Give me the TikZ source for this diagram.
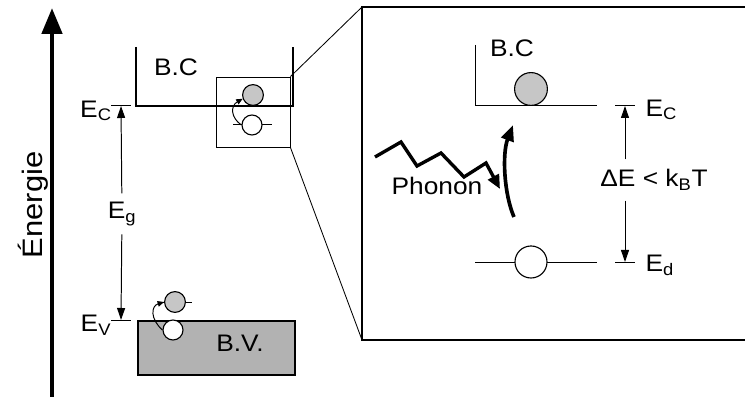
\documentclass[tikz,border=0pt]{standalone}
\usepackage{fontspec}
\setmainfont{Liberation Sans}[FakeStretch=1.1]
\usetikzlibrary{arrows.meta}
\tikzset{
  band/.style={line width=1.4pt},
  level/.style={line width=0.7pt},
  gaparrow/.style={line width=0.7pt, -{Triangle[length=3mm, width=2mm]}},
  elec/.style={circle, draw, line width=0.8pt, fill=gray!45, minimum size=#1, inner sep=0pt},
  hole/.style={circle, draw, line width=0.8pt, fill=white, minimum size=#1, inner sep=0pt},
  lbl/.style={font=\fontsize{17}{19}\selectfont, inner sep=1pt},
}

\begin{document}
\begin{tikzpicture}[x=0.025cm, y=0.025cm]
    \useasboundingbox (0,0) rectangle (745,399);
    % axe des energies
    \draw[line width=3.4pt, -{Triangle[length=6.5mm, width=5mm]}] (52,2) -- (52,391);
    \node[lbl, font=\fontsize{20}{22}\selectfont, rotate=90] (energie) at (33,194) {Énergie};
    % bandes
    \draw[band] (136,352) -- (136,293) -- (293,293) -- (293,352);
    \node[lbl] (bc) at (176,332) {B.C};
    \draw[band, fill=gray!60] (138,24) rectangle (295,78);
    \node[lbl] (bv) at (240,56) {B.V.};
    % niveaux et gap
    \coordinate (ctick) at (121,293);
    \coordinate (vtick) at (121,79);
    \draw[level] (111,293) -- (131,293);
    \draw[level] (111,79) -- (131,79);
    \node[lbl] (Ec) at (96,288) {E\textsubscript{C}};
    \node[lbl] (Ev) at (96,74) {E\textsubscript{V}};
    \node[lbl, inner sep=6pt] (Eg) at (122,185) {E\textsubscript{g}};
    \draw[gaparrow] (Eg) -- (ctick);
    \draw[gaparrow] (Eg) -- (vtick);
    % excitation dans la B.V.
    \draw[level] (158,97) -- (192,97);
    \node[elec=5.2mm] (ev) at (175,97) {};
    \node[hole=5mm] (hv) at (173,69) {};
    \draw[level, -{Triangle[length=1.6mm, width=1.4mm]}] (hv.west) .. controls (150,80) and (151,93) .. (ev.west);
    % zone agrandie
    \node[draw, line width=0.6pt, minimum width=1.85cm, minimum height=1.75cm, inner sep=0pt] (zoom) at (253,287) {};
    \node[elec=5.2mm] (es) at (253,304) {};
    \draw[level] (233,274) -- (272,274);
    \node[hole=5mm] (hs) at (252,274) {};
    \draw[level, -{Triangle[length=1.6mm, width=1.4mm]}] (hs.west) .. controls (231,281) and (230,293) .. (es.200);
    \coordinate (bigNW) at (362,392);
    \coordinate (bigSW) at (362,59);
    \draw[line width=0.6pt] (zoom.north east) -- (bigNW);
    \draw[line width=0.6pt] (zoom.south east) -- (bigSW);
    \draw[band] (745,392) -- (bigNW) -- (bigSW) -- (745,59);
    % detail : donneur -> B.C
    \draw[level] (475,354) -- (475,293) -- (597,293);
    \node[lbl] (bc2) at (512,351) {B.C};
    \node[elec=8.2mm] (ec) at (531,310) {};
    \draw[level] (475,137) -- (597,137);
    \node[hole=8mm] (hd) at (531,137) {};
    \coordinate (ctick2) at (625,293);
    \coordinate (dtick2) at (625,137);
    \draw[level] (615,293) -- (635,293);
    \draw[level] (615,137) -- (635,137);
    \node[lbl, anchor=west] (Ec2) at (644,289) {E\textsubscript{C}};
    \node[lbl, anchor=west] (Ed2) at (644,134) {E\textsubscript{d}};
    \node[lbl, inner sep=7pt] (dE) at (654,219) {ΔE < k\textsubscript{B}T};
    \draw[gaparrow] (dE.north -| ctick2) -- (ctick2);
    \draw[gaparrow] (dE.south -| dtick2) -- (dtick2);
    % saut thermique
    \coordinate (jumpstart) at (514,182);
    \coordinate (jumpend) at (513,274);
    \draw[line width=2.6pt, -{Triangle[length=4mm, width=3.2mm]}] (jumpstart) .. controls (504,205) and (502,245) .. (jumpend);
    % phonon
    \draw[line width=2.4pt, line join=miter, -{Triangle[length=3.5mm, width=3mm]}] (375,242) -- (401,257) -- (417,233) -- (441,246) -- (464,222) -- (486,236) -- (500,210);
    \node[lbl] (phonon) at (437,213) {Phonon};
\end{tikzpicture}
\end{document}
